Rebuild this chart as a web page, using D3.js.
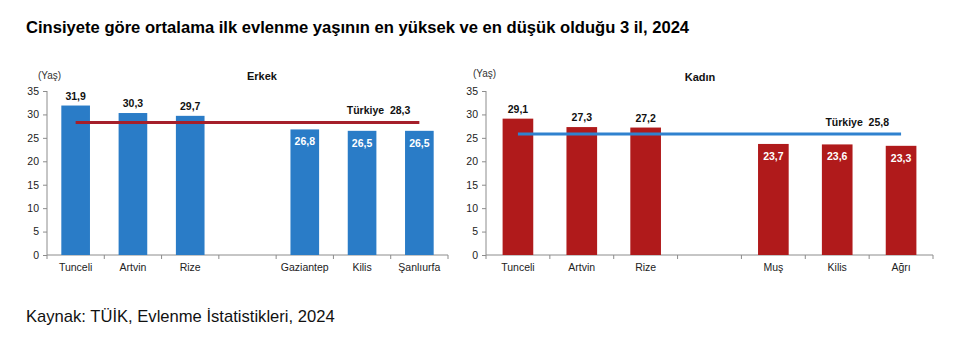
<!DOCTYPE html>
<html><head><meta charset="utf-8">
<script src="https://cdn.jsdelivr.net/npm/d3@7"></script>
<style>
body{margin:0;background:#fff;}
text{font-family:"Liberation Sans",Arial,sans-serif;}
</style></head>
<body><svg id="c" width="967" height="339"></svg>
<script>
const title = "Cinsiyete göre ortalama ilk evlenme yaşının en yüksek ve en düşük olduğu 3 il, 2024";
const source = "Kaynak: TÜİK, Evlenme İstatistikleri, 2024";
const yTicks = [0,5,10,15,20,25,30,35];
const maleTopCities = ["Tunceli","Artvin","Rize"];
const maleTopValues = [31.9,30.3,29.7];
const maleBottomCities = ["Gaziantep","Kilis","Şanlıurfa"];
const maleBottomValues = [26.8,26.5,26.5];
const maleTurkiye = 28.3;
const femaleTopCities = ["Tunceli","Artvin","Rize"];
const femaleTopValues = [29.1,27.3,27.2];
const femaleBottomCities = ["Muş","Kilis","Ağrı"];
const femaleBottomValues = [23.7,23.6,23.3];
const femaleTurkiye = 25.8;

const svg = d3.select("#c");
const fmt = v => d3.format(".1f")(v).replace(".", ",");

svg.append("text").attr("x",26).attr("y",33).attr("font-size",16.6).attr("font-weight","bold").attr("fill","#000").text(title);
svg.append("text").attr("x",26).attr("y",322).attr("font-size",16.6).attr("fill","#111").text(source);

function panel(o){
  const g = svg.append("g");
  const topKeys = o.topCities.map((c,i)=>"t"+i);
  const botKeys = o.bottomCities.map((c,i)=>"b"+i);
  const keys = [...topKeys,"gap",...botKeys];
  const names = {}; o.topCities.forEach((c,i)=>names["t"+i]=c); o.bottomCities.forEach((c,i)=>names["b"+i]=c); names.gap="";
  const data = [...o.topCities.map((c,i)=>({k:"t"+i,v:o.topValues[i],top:true})), ...o.bottomCities.map((c,i)=>({k:"b"+i,v:o.bottomValues[i],top:false}))];
  const x = d3.scaleBand().domain(keys).range([o.x0,o.x1]).paddingInner(o.pad).paddingOuter(o.pad/2);
  const y = d3.scaleLinear().domain([0,35]).range([255,91]);
  // y axis
  const ya = g.append("g").attr("transform",`translate(${o.x0},0)`).call(d3.axisLeft(y).tickValues(yTicks).tickSize(4).tickPadding(4));
  ya.select(".domain").attr("stroke","#8c8c8c").attr("d",`M0,${y(35)}V${y(0)}`);
  ya.selectAll(".tick line").attr("stroke","#8c8c8c");
  ya.selectAll(".tick text").attr("font-size",10.5).attr("fill","#222").attr("font-family","Liberation Sans, Arial, sans-serif");
  // x axis
  const xa = g.append("g").attr("transform",`translate(0,${y(0)})`);
  xa.append("line").attr("x1",o.x0).attr("x2",o.x1).attr("stroke","#8c8c8c");
  const step = x.step();
  const bounds = d3.range(keys.length+1).map(i=>o.x0 + i*step);
  xa.selectAll(".tk").data(bounds).join("line").attr("x1",d=>d).attr("x2",d=>d).attr("y1",0).attr("y2",4).attr("stroke","#8c8c8c");
  xa.selectAll(".lb").data(keys.filter(k=>k!=="gap")).join("text").attr("x",k=>x(k)+x.bandwidth()/2).attr("y",16)
    .attr("text-anchor","middle").attr("font-size",10.5).attr("fill","#222").text(k=>names[k]);
  // bars
  g.selectAll(".bar").data(data).join("rect").attr("x",d=>x(d.k)).attr("width",x.bandwidth())
    .attr("y",d=>y(d.v)).attr("height",d=>y(0)-y(d.v)).attr("fill",o.barColor);
  // labels
  g.selectAll(".vl").data(data).join("text").attr("x",d=>x(d.k)+x.bandwidth()/2)
    .attr("y",d=>d.top? y(d.v)-6 : y(d.v)+16).attr("text-anchor","middle").attr("font-size",10.5).attr("font-weight","bold")
    .attr("fill",d=>d.top?"#111":"#fff").text(d=>fmt(d.v));
  // Turkiye line
  const lx1 = x(keys[0])+x.bandwidth()/2, lx2 = x(keys[keys.length-1])+x.bandwidth()/2;
  g.append("line").attr("x1",lx1).attr("x2",lx2).attr("y1",y(o.tr)).attr("y2",y(o.tr)).attr("stroke",o.lineColor).attr("stroke-width",3);
  g.append("text").attr("x",lx2-o.tlOff).attr("y",y(o.tr)-8).attr("text-anchor","end").attr("font-size",10.5).attr("font-weight","bold").attr("fill","#111")
    .attr("xml:space","preserve").text("Türkiye  "+fmt(o.tr));
  g.append("text").attr("x",o.title_x).attr("y",o.title_y).attr("text-anchor","middle").attr("font-size",11).attr("font-weight","bold").attr("fill","#111").text(o.title);
  g.append("text").attr("x",o.yl_x).attr("y",o.yl_y).attr("font-size",10).attr("fill","#333").text("(Yaş)");
}
panel({x0:47,x1:448,pad:0.5,topCities:maleTopCities,topValues:maleTopValues,bottomCities:maleBottomCities,bottomValues:maleBottomValues,
  tr:maleTurkiye,barColor:"#2a7cc7",lineColor:"#a51f2a",tlOff:9,title:"Erkek",title_x:262,title_y:80,yl_x:38,yl_y:79});
panel({x0:486,x1:933,pad:0.52,topCities:femaleTopCities,topValues:femaleTopValues,bottomCities:femaleBottomCities,bottomValues:femaleBottomValues,
  tr:femaleTurkiye,barColor:"#b01a1b",lineColor:"#2f82cf",tlOff:12,title:"Kadın",title_x:700,title_y:81,yl_x:473,yl_y:77});
</script></body></html>
